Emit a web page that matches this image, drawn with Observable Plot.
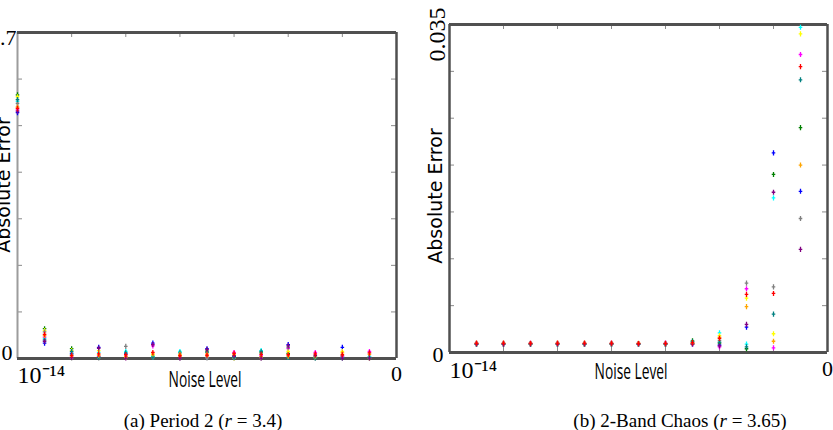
<!DOCTYPE html>
<html><head><meta charset="utf-8">
<script src="https://cdn.jsdelivr.net/npm/d3@7"></script>
<script src="https://cdn.jsdelivr.net/npm/@observablehq/plot@0.6"></script>
<style>
html,body{margin:0;padding:0;background:#fff;}
#root{position:relative;width:833px;height:430px;overflow:hidden;background:#fff;}
.panel{position:absolute;top:0;}
.lbl{position:absolute;white-space:nowrap;color:#000;line-height:1;}
.sans{font-family:"DejaVu Sans",Verdana,sans-serif;font-size:19px;}
.calib{font-family:"Open Sans","Noto Sans",sans-serif;font-size:21.5px;}
.serif{font-family:"Liberation Serif","Times New Roman",serif;font-size:19px;}
</style></head><body><div id="root"></div>
<script>
// ---- data ----
const noiseSteps = [0,1,2,3,4,5,6,7,8,9,10,11,12,13];
const noiseTicks = [0,2,4,6,8,10,12,14];
const seriesNames = ["blue","green","cyan","magenta","yellow","gray","teal","orange","purple","red"];
const seriesColors = ["#1515e0","#1f9a1f","#20c0c8","#c424c4","#c8c620","#444444","#1d7a58","#e6502a","#4a2cb0","#e01a2a"];

// (a) Period 2 (r = 3.4)
const a_blue    = [0.528,0.033,0.011,0.024,0.010,0.033,0.002,0.021,0.004,0.003,0.030,0.004,0.024,0.003];
const a_green   = [0.566,0.064,0.021,0.004,0.003,0.005,0.003,0.016,0.003,0.012,0.011,0.002,0.003,0.002];
const a_cyan    = [0.552,0.043,0.009,0.013,0.015,0.004,0.015,0.003,0.002,0.017,0.003,0.003,0.002,0.004];
const a_magenta = [0.534,0.046,0.003,0.005,0.005,0.027,0.004,0.004,0.013,0.006,0.021,0.013,0.004,0.015];
const a_yellow  = [0.562,0.060,0.017,0.017,0.002,0.008,0.005,0.005,0.001,0.002,0.015,0.002,0.015,0.001];
const a_gray    = [0.548,0.057,0.001,0.001,0.026,0.002,0.001,0.001,0.001,0.001,0.024,0.001,0.006,0.001];
const a_teal    = [0.556,0.040,0.015,0.002,0.012,0.003,0.012,0.013,0.002,0.015,0.002,0.001,0.001,0.002];
const a_orange  = [0.540,0.049,0.005,0.007,0.004,0.010,0.009,0.010,0.008,0.004,0.005,0.005,0.012,0.009];
const a_purple  = [0.531,0.037,0.002,0.022,0.001,0.030,0.001,0.019,0.006,0.001,0.027,0.007,0.001,0.001];
const a_red     = [0.537,0.052,0.007,0.010,0.008,0.013,0.006,0.007,0.011,0.009,0.008,0.010,0.008,0.012];

// (b) 2-Band Chaos (r = 3.65)
const b_blue    = [null,0.00090,0.00091,0.00089,0.00092,0.00090,0.00088,0.00089,0.00090,0.00092,0.0008,0.0027,0.0213,0.0172];
const b_green   = [null,0.00092,0.00090,0.00093,0.00091,0.00089,0.00092,0.00090,0.00091,0.00125,0.0010,0.0004,0.0190,0.0240];
const b_cyan    = [null,0.00088,0.00089,0.00090,0.00087,0.00088,0.00090,0.00088,0.00089,0.00094,0.0021,0.0009,0.0165,0.0347];
const b_magenta = [null,0.00096,0.00095,0.00097,0.00096,0.00094,0.00097,0.00094,0.00100,0.00092,0.0006,0.0068,0.0005,0.0318];
const b_yellow  = [null,0.00091,0.00092,0.00090,0.00093,0.00092,0.00091,0.00092,0.00090,0.00096,0.0018,0.0058,0.0020,0.0340];
const b_gray    = [null,0.00089,0.00088,0.00091,0.00089,0.00090,0.00089,0.00091,0.00088,0.00093,0.0013,0.0074,0.0070,0.0143];
const b_teal    = [null,0.00093,0.00094,0.00092,0.00094,0.00093,0.00094,0.00093,0.00092,0.00115,0.0011,0.0006,0.0041,0.0291];
const b_orange  = [null,0.00097,0.00098,0.00096,0.00098,0.00097,0.00096,0.00099,0.00094,0.00098,0.0016,0.0049,0.0012,0.0200];
const b_purple  = [null,0.00090,0.00089,0.00092,0.00090,0.00091,0.00093,0.00090,0.00091,0.00090,0.0007,0.0030,0.0171,0.0110];
const b_red     = [null,0.00100,0.00101,0.00099,0.00100,0.00101,0.00100,0.00096,0.00097,0.00105,0.0015,0.0062,0.0063,0.0305];

const a_yTicks = [0,0.1,0.2,0.3,0.4,0.5,0.6,0.7];
const b_yTicks = [0,0.005,0.01,0.015,0.02,0.025,0.03,0.035];

// ---- helpers ----
const seriesA = [a_blue,a_green,a_cyan,a_magenta,a_yellow,a_gray,a_teal,a_orange,a_purple,a_red];
const seriesB = [b_blue,b_green,b_cyan,b_magenta,b_yellow,b_gray,b_teal,b_orange,b_purple,b_red];
function rowsOf(list){
  const rows=[];
  list.forEach((vals,si)=>vals.forEach((v,i)=>{ if(v!=null) rows.push({step:noiseSteps[i], err:v, series:seriesNames[si]}); }));
  return rows;
}
// MATLAB-like "+" marker, a bit taller than wide
const plusMark = {draw(ctx, size){ const a=Math.sqrt(size)*0.45; ctx.moveTo(0,-a); ctx.lineTo(0,a); ctx.moveTo(-a*0.7,0); ctx.lineTo(a*0.7,0); }};
const serifFont = '"Liberation Serif","Times New Roman",serif';

function panel(cfg){
  const innerW = cfg.width - cfg.mL - cfg.mR, innerH = cfg.height - cfg.mT - cfg.mB;
  const yMax = cfg.yTicks[cfg.yTicks.length-1];
  const tk = {stroke:"#8a8a8a", strokeWidth:1};
  return Plot.plot({
    width: cfg.width, height: cfg.height,
    marginLeft: cfg.mL, marginRight: cfg.mR, marginTop: cfg.mT, marginBottom: cfg.mB,
    x: {domain:[0,14], axis:null},
    y: {domain:[0,yMax], axis:null},
    color: {domain: seriesNames, range: seriesColors},
    style: {background:"transparent", overflow:"visible"},
    marks: [
      Plot.ruleX(noiseTicks, {x:d=>d, ...tk, insetBottom: innerH-5}),
      Plot.ruleX(noiseTicks, {x:d=>d, ...tk, insetTop: innerH-5}),
      Plot.ruleY(cfg.yTicks, {y:d=>d, ...tk, insetRight: innerW-5}),
      Plot.ruleY(cfg.yTicks, {y:d=>d, ...tk, insetLeft: innerW-5}),
      Plot.ruleX([0], {stroke: cfg.leftColor, strokeWidth: cfg.leftWidth}),
      Plot.ruleX([14], {stroke:"#505050", strokeWidth:2.5}),
      Plot.ruleY([0, yMax], {stroke:"#505050", strokeWidth:2.8}),
      Plot.dot(cfg.rows, {x:"step", y:"err", stroke:"series", symbol: plusMark, r:3.2, strokeWidth:1.3}),
      Plot.axisY({ticks:[0], anchor:"left", label:null, tickSize:0, tickPadding:cfg.y0Pad, dy:cfg.y0dy, tickFormat:()=>"0", fontSize:22, fontFamily:serifFont}),
      cfg.topRot
        ? Plot.axisY({ticks:[yMax], anchor:"left", label:null, tickSize:0, tickPadding:0, tickRotate:-90, textAnchor:"middle", lineAnchor:"middle", dx:cfg.topDx, dy:cfg.topDy, tickFormat:cfg.topFmt, fontSize:24, fontFamily:serifFont})
        : Plot.axisY({ticks:[yMax], anchor:"left", label:null, tickSize:0, tickPadding:cfg.topPad, dy:cfg.topDy, tickFormat:cfg.topFmt, fontSize:22, fontFamily:serifFont}),
      Plot.axisX({ticks:[0], anchor:"bottom", label:null, tickSize:0, tickPadding:cfg.xPad, textAnchor:"start", tickFormat:()=>"10\u207B\u00B9\u2074", fontSize:24, fontFamily:serifFont}),
      Plot.axisX({ticks:[14], anchor:"bottom", label:null, tickSize:0, tickPadding:cfg.xPad, tickFormat:()=>"0", fontSize:22, fontFamily:serifFont})
    ]
  });
}

const root = document.getElementById("root");
const pa = panel({rows: rowsOf(seriesA), yTicks: a_yTicks, width:410, height:400, mL:17, mR:14, mT:32, mB:42,
  leftColor:"#9c9c9c", leftWidth:2, y0Pad:5, y0dy:-6, topPad:1, topDy:5, topFmt:()=>"0.7", xPad:7});
pa.classList.add("panel"); pa.style.left="0px"; root.appendChild(pa);

const pb = panel({rows: rowsOf(seriesB), yTicks: b_yTicks, width:413, height:400, mL:29, mR:6, mT:24, mB:48,
  leftColor:"#505050", leftWidth:2.5, y0Pad:6, y0dy:2, topRot:true, topDx:-12, topDy:10, topFmt:()=>"0.035", xPad:8});
pb.classList.add("panel"); pb.style.left="420px"; root.appendChild(pb);

function label(text, cls, cx, cy, transform){
  const d=document.createElement("div");
  d.className="lbl "+cls; d.innerHTML=text;
  d.style.left=cx+"px"; d.style.top=cy+"px";
  d.style.transform="translate(-50%,-50%) "+(transform||"");
  root.appendChild(d);
}
label("Absolute Error","sans",3,185,"rotate(-90deg)");
label("Absolute Error","sans",435,196,"rotate(-90deg)");
label("Noise Level","calib",205,379,"scaleX(0.64)");
label("Noise Level","calib",631,371,"scaleX(0.64)");
label("(a) Period 2 (<i>r</i> = 3.4)","serif",203,420);
label("(b) 2-Band Chaos (<i>r</i> = 3.65)","serif",680,420);
</script></body></html>
